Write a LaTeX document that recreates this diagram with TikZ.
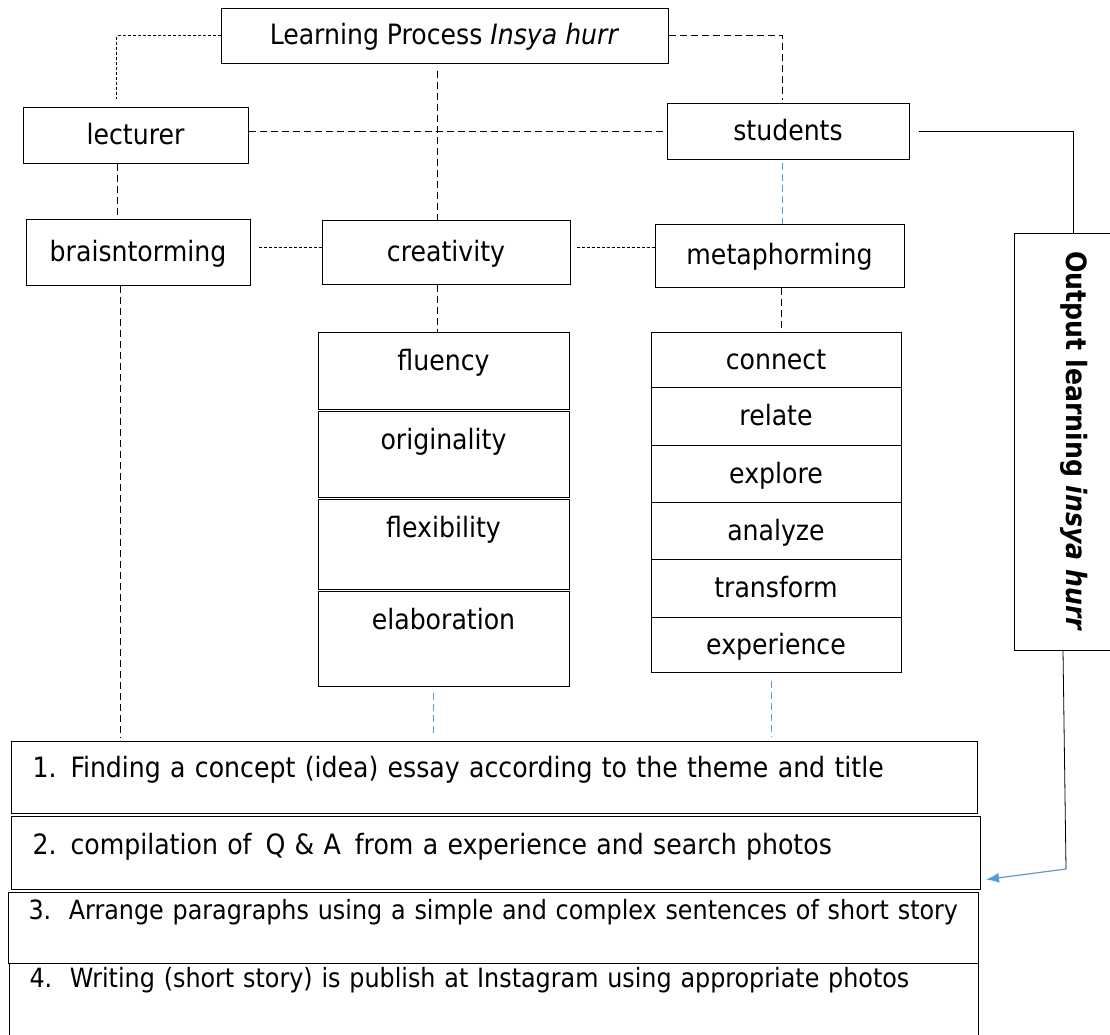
\documentclass[tikz,border=0pt]{standalone}
\usepackage{fontspec}
\setmainfont{DejaVu Sans Condensed}
\usetikzlibrary{arrows.meta}
\definecolor{lineblue}{RGB}{91,155,213}
\tikzset{
  box/.style={draw, line width=1pt, inner sep=0pt, text height=21pt, text depth=3pt,
    font=\fontsize{28}{32}\selectfont},
  cell/.style={box, anchor=north, minimum width=251pt, text height=38pt},
  mcell/.style={box, anchor=north, minimum width=250pt},
  task/.style={box, anchor=north west, inner xsep=21pt, align=left},
  dashline/.style={dash pattern=on 7pt off 4pt, line width=0.7pt},
  dotline/.style={dash pattern=on 3pt off 2pt, line width=0.7pt},
  blueline/.style={dash pattern=on 7pt off 4pt, line width=1pt, lineblue},
}
\begin{document}
\begin{tikzpicture}[x=1pt, y=-1pt]
      \useasboundingbox (0,0) rectangle (1110,1034);
      \clip (0,0) rectangle (1110,1034);
      % top part
      \node[box, minimum width=447pt, minimum height=55pt] (title) at (444.5,35.5)
        {Learning Process \textit{Insya hurr}};
      \node[box, minimum width=225pt, minimum height=56pt] (lecturer) at (135.5,135) {lecturer};
      \node[box, minimum width=242pt, minimum height=56pt] (students) at (788,131) {students};
      \node[box, minimum width=224pt, minimum height=66pt] (brainstorm) at (138,252) {braisntorming};
      \node[box, minimum width=248pt, minimum height=64pt] (creativity) at (446,252) {creativity};
      \node[box, minimum width=249pt, minimum height=63pt] (metaphor) at (779.5,255.5) {metaphorming};
      % creativity column
      \node[cell, text depth=39pt] (fluency) at (443.5,332) {fluency};
      \node[cell, text depth=48pt] (originality) at (443.5,411) {originality};
      \node[cell, text depth=52pt] (flexibility) at (443.5,499) {flexibility};
      \node[cell, text depth=57pt] (elaboration) at (443.5,591) {elaboration};
      % metaphorming column
      \node[mcell, minimum height=55pt] (connect) at (776,332) {connect};
      \node[mcell, minimum height=58pt] (relate) at (776,387) {relate};
      \node[mcell, minimum height=57pt] (explore) at (776,445) {explore};
      \node[mcell, minimum height=57pt] (analyze) at (776,502) {analyze};
      \node[mcell, minimum height=58pt] (transform) at (776,559) {transform};
      \node[mcell, minimum height=55pt] (experience) at (776,617) {experience};
      % output
      \node[draw, line width=1pt, inner sep=0pt, minimum width=120pt, minimum height=417pt,
        font=\fontsize{28}{32}\selectfont\bfseries] (output) at (1074,441.5)
        {\rotatebox{-90}{Output learning \textit{insya hurr}}};
      % tasks
      \node[task, text width=924pt, minimum height=72pt, text height=36pt, text depth=36pt] (task1) at (11,741)
        {1. Finding a concept (idea) essay according to the theme and title};
      \node[task, text width=927pt, minimum height=73pt, text height=38pt, text depth=35pt] (task2) at (11,816)
        {2. compilation of\, Q \& A\, from a experience and search photos};
      \node[task, text width=930pt, inner xsep=20pt, text height=27pt, text depth=44pt,
        font=\fontsize{26.5}{30}\selectfont] (task3) at (8,892)
        {3.\, Arrange paragraphs using a simple and complex sentences of short story};
      \node[task, text width=929pt, inner xsep=20pt, text height=24pt, text depth=70pt,
        font=\fontsize{26.5}{30}\selectfont] (task4) at (9,963)
        {4.\, Writing (short story) is publish at Instagram using appropriate photos};
      \coordinate (bend) at (1066,869);
      \begin{scope}[-]
        \draw[dotline] (title.west) -| ([xshift=-19pt,yshift=8pt]lecturer.north);
        \draw[dashline] (title.east) -| ([xshift=-6pt,yshift=3pt]students.north);
        \draw[dashline] ([xshift=-7.5pt,yshift=-7pt]title.south) -- ([xshift=-9pt]creativity.north);
        \draw[dashline] (lecturer.east |- students.west) -- (students.west);
        \draw[dashline] ([xshift=-18.5pt]lecturer.south) -- ([xshift=-21pt]brainstorm.north);
        \draw[blueline] ([xshift=-6pt,yshift=-3pt]students.south) -- ([xshift=2.5pt]metaphor.north);
        \draw[dotline] ([xshift=8pt,yshift=5pt]brainstorm.east) -- ([yshift=5pt]creativity.west);
        \draw[dotline] ([xshift=6pt,yshift=5pt]creativity.east) -- ([yshift=8.5pt]metaphor.west);
        \draw[dashline] ([xshift=-9pt]creativity.south) -- ([xshift=-6.5pt]fluency.north);
        \draw[dashline] ([xshift=1.5pt]metaphor.south) -- ([xshift=5pt]connect.north);
        \draw[dashline, shorten >=4pt] ([xshift=-18pt]brainstorm.south) -- ([xshift=-18pt]brainstorm.south |- task1.north);
        \draw[blueline, shorten >=4pt] ([xshift=-10.5pt,yshift=-6pt]elaboration.south) -- ([xshift=-10.5pt]elaboration.south |- task1.north);
        \draw[blueline, shorten >=4pt] ([xshift=-5pt,yshift=-8pt]experience.south) -- ([xshift=-5pt]experience.south |- task1.north);
        \draw[line width=0.8pt] ([xshift=9pt]students.east) -| ([xshift=-1pt]output.north);
        \draw[line width=0.8pt] ([xshift=-11pt]output.south) -- (bend);
        \draw[lineblue, line width=1.2pt, -{Latex[length=13pt,width=10pt]}] (bend) -- ([xshift=5pt,yshift=-26.5pt]task2.east);
      \end{scope}
    \end{tikzpicture}
\end{document}
